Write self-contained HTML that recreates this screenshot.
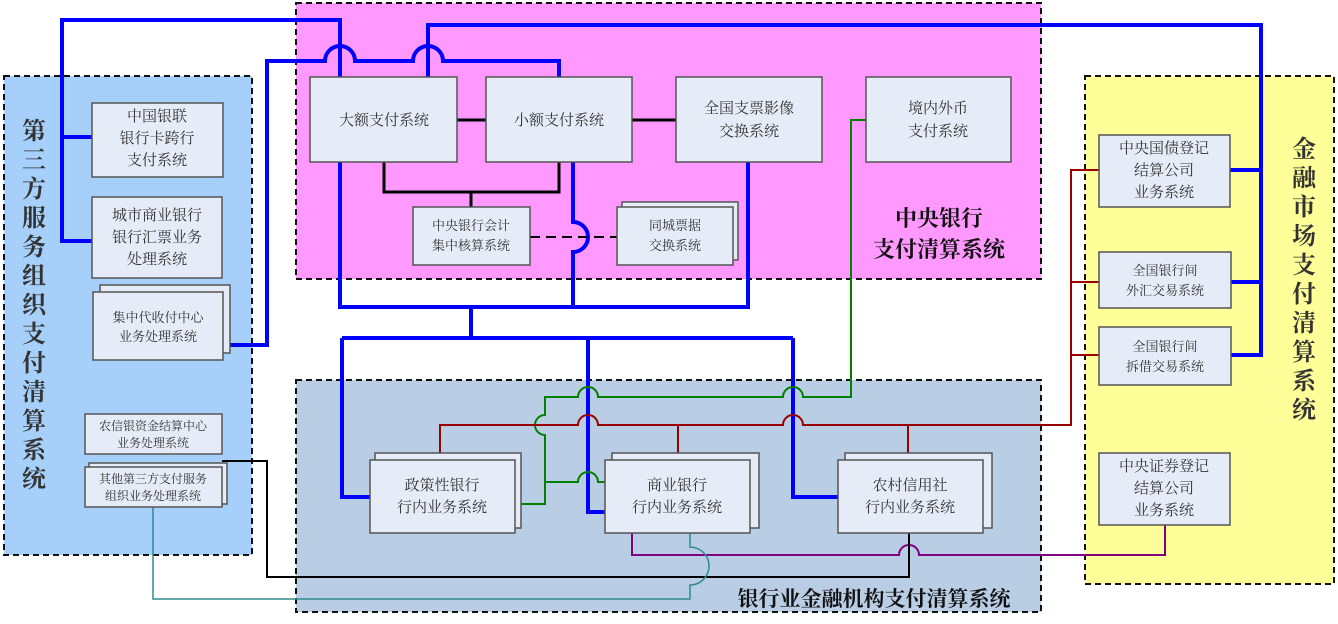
<!DOCTYPE html>
<html><head><meta charset="utf-8"><style>
html,body{margin:0;padding:0;background:#fff;}
svg{display:block;}
text{font-family:"Liberation Serif","Noto Serif CJK SC",serif;fill:#333;}
.b{fill:#e6ecf7;stroke:#555;stroke-width:1.5;}
.t{font-size:15px;text-anchor:middle;}
.s{font-size:13px;text-anchor:middle;}
.h{font-weight:bold;fill:#111;}
</style></head><body>
<svg width="1338" height="624" viewBox="0 0 1338 624" xmlns="http://www.w3.org/2000/svg">
<!-- containers -->
<rect x="4" y="76" width="248" height="479" fill="#a6d0fa" stroke="#111" stroke-width="2" stroke-dasharray="6,4"/>
<rect x="296" y="3" width="745" height="276" fill="#ff99ff" stroke="#111" stroke-width="2" stroke-dasharray="6,4"/>
<rect x="296" y="380" width="745" height="232" fill="#b9cde5" stroke="#111" stroke-width="2" stroke-dasharray="6,4"/>
<rect x="1085" y="76" width="249" height="508" fill="#ffff99" stroke="#111" stroke-width="2" stroke-dasharray="6,4"/>

<g fill="none">
<!-- blue -->
<g stroke="#0000ff" stroke-width="4">
<path d="M92,241 H62 V20 H340 V77"/>
<path d="M62,137 H92"/>
<path d="M223,345 H267 V61 H325 A15,15 0 0 1 355,61 H413 A15,15 0 0 1 443,61 H559 V77"/>
<path d="M428,77 V25 H1261 V355 H1231"/>
<path d="M1230,170 H1261 M1231,282 H1261"/>
<path d="M340,162 V307 H748 V162"/>
<path d="M573,162 V222 A15,15 0 0 1 573,252 V307"/>
<path d="M471,307 V338"/>
<path d="M342,338 H793"/>
<path d="M342,338 V497 H370"/>
<path d="M588,338 V512 H605"/>
<path d="M793,338 V497 H838"/>
</g>
<!-- black thick -->
<g stroke="#000" stroke-width="3">
<path d="M457,120 H486 M632,120 H676"/>
<path d="M384,162 V192 H559 V162 M471,192 V207"/>
</g>
<path d="M530,237 H617" stroke="#000" stroke-width="2" stroke-dasharray="10,6"/>
<!-- green -->
<g stroke="#008000" stroke-width="2">
<path d="M866,120 H851 V397 H803 A10,10 0 0 0 783,397 H598 A10,10 0 0 0 578,397 H545 V415 A10,10 0 0 0 545,435 V504 H521"/>
<path d="M545,482 H578 A10,10 0 0 1 598,482 H605"/>
</g>
<!-- red -->
<g stroke="#990000" stroke-width="2">
<path d="M440,453 V425 H578 A10,10 0 0 1 598,425 H783 A10,10 0 0 1 803,425 H1071 V170 H1099"/>
<path d="M678,425 V453 M908,425 V453 M1071,282 H1099 M1071,355 H1099"/>
</g>
<!-- purple -->
<path d="M632,533 V555 H899 A10,10 0 0 1 919,555 H1165 V525" stroke="#800080" stroke-width="2"/>
<!-- black thin -->
<path d="M222,461 H267 V577 H909 V533" stroke="#000" stroke-width="2"/>
<!-- teal -->
<path d="M153,507 V599 H690 V585 A19,19 0 0 0 690,547 V533" stroke="#2e8b8b" stroke-width="1.5"/>
</g>

<!-- boxes -->
<rect class="b" x="310" y="77" width="147" height="85"/>
<rect class="b" x="486" y="77" width="146" height="85"/>
<rect class="b" x="676" y="77" width="146" height="85"/>
<rect class="b" x="866" y="77" width="145" height="85"/>
<rect class="b" x="413" y="207" width="117" height="58"/>
<rect class="b" x="622" y="202" width="116" height="58"/>
<rect class="b" x="617" y="207" width="116" height="58"/>
<rect class="b" x="92" y="103" width="131" height="74"/>
<rect class="b" x="92" y="197" width="130" height="81"/>
<rect class="b" x="100" y="285" width="130" height="68"/>
<rect class="b" x="93" y="292" width="130" height="68"/>
<rect class="b" x="85" y="414" width="137" height="40"/>
<rect class="b" x="89" y="463" width="138" height="41"/>
<rect class="b" x="85" y="467" width="137" height="40"/>
<rect class="b" x="375" y="453" width="146" height="75"/>
<rect class="b" x="370" y="460" width="145" height="73"/>
<rect class="b" x="612" y="453" width="147" height="75"/>
<rect class="b" x="605" y="460" width="145" height="73"/>
<rect class="b" x="845" y="453" width="147" height="75"/>
<rect class="b" x="838" y="460" width="145" height="73"/>
<rect class="b" x="1099" y="135" width="131" height="72"/>
<rect class="b" x="1099" y="252" width="132" height="56"/>
<rect class="b" x="1099" y="327" width="132" height="58"/>
<rect class="b" x="1099" y="453" width="131" height="72"/>

<!-- box text -->
<text class="t" x="384" y="125">大额支付系统</text>
<text class="t" x="559" y="125">小额支付系统</text>
<text class="t" x="749" y="113">全国支票影像</text><text class="t" x="749" y="136">交换系统</text>
<text class="t" x="938" y="113">境内外币</text><text class="t" x="938" y="136">支付系统</text>
<text class="s" x="471" y="230">中央银行会计</text><text class="s" x="471" y="250">集中核算系统</text>
<text class="s" x="675" y="230">同城票据</text><text class="s" x="675" y="250">交换系统</text>
<text class="t" x="157" y="121">中国银联</text><text class="t" x="157" y="143">银行卡跨行</text><text class="t" x="157" y="165">支付系统</text>
<text class="t" x="157" y="220">城市商业银行</text><text class="t" x="157" y="242">银行汇票业务</text><text class="t" x="157" y="264">处理系统</text>
<text class="s" x="158" y="322">集中代收付中心</text><text class="s" x="158" y="341">业务处理系统</text>
<text class="s" x="153" y="430" style="font-size:12px">农信银资金结算中心</text><text class="s" x="153" y="447" style="font-size:12px">业务处理系统</text>
<text class="s" x="153" y="483" style="font-size:12px">其他第三方支付服务</text><text class="s" x="153" y="500" style="font-size:12px">组织业务处理系统</text>
<text class="t" x="442" y="490">政策性银行</text><text class="t" x="442" y="512">行内业务系统</text>
<text class="t" x="677" y="490">商业银行</text><text class="t" x="677" y="512">行内业务系统</text>
<text class="t" x="910" y="490">农村信用社</text><text class="t" x="910" y="512">行内业务系统</text>
<text class="t" x="1164" y="153">中央国债登记</text><text class="t" x="1164" y="175">结算公司</text><text class="t" x="1164" y="197">业务系统</text>
<text class="s" x="1165" y="275">全国银行间</text><text class="s" x="1165" y="295">外汇交易系统</text>
<text class="s" x="1165" y="351">全国银行间</text><text class="s" x="1165" y="371">拆借交易系统</text>
<text class="t" x="1164" y="471">中央证券登记</text><text class="t" x="1164" y="493">结算公司</text><text class="t" x="1164" y="515">业务系统</text>

<!-- titles -->
<text class="h" x="939" y="226" font-size="22" text-anchor="middle">中央银行</text>
<text class="h" x="939" y="257" font-size="22" text-anchor="middle">支付清算系统</text>
<text class="h" x="874" y="606" font-size="21" text-anchor="middle">银行业金融机构支付清算系统</text>
<g class="h" font-size="24" text-anchor="middle">
<text x="34" y="139">第</text><text x="34" y="168">三</text><text x="34" y="197">方</text><text x="34" y="226">服</text><text x="34" y="255">务</text><text x="34" y="284">组</text><text x="34" y="313">织</text><text x="34" y="342">支</text><text x="34" y="371">付</text><text x="34" y="400">清</text><text x="34" y="429">算</text><text x="34" y="458">系</text><text x="34" y="487">统</text>
<text x="1304" y="157">金</text><text x="1304" y="186">融</text><text x="1304" y="215">市</text><text x="1304" y="244">场</text><text x="1304" y="273">支</text><text x="1304" y="302">付</text><text x="1304" y="331">清</text><text x="1304" y="360">算</text><text x="1304" y="389">系</text><text x="1304" y="418">统</text>
</g>
</svg>
</body></html>
